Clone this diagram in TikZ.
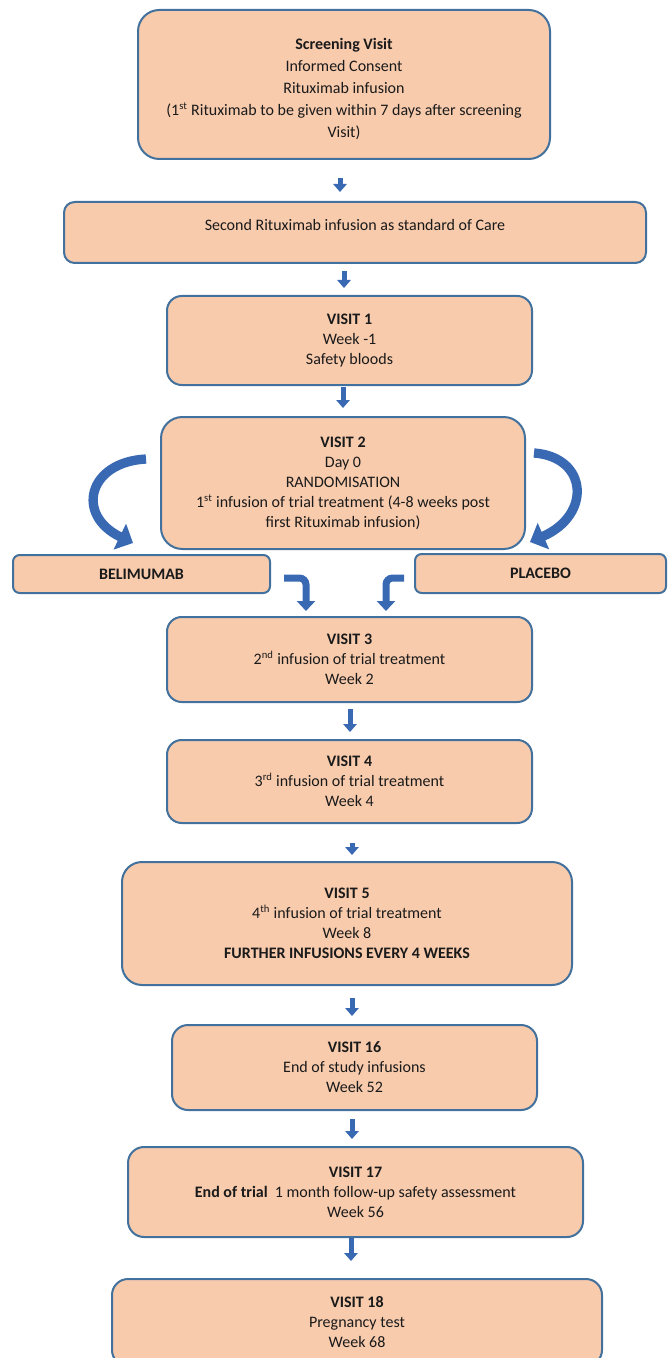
\documentclass[tikz,border=0pt]{standalone}
\usepackage{fontspec}
\setmainfont{Carlito}
\usetikzlibrary{arrows.meta}
\definecolor{peach}{HTML}{F8CBAD}
\definecolor{bordr}{HTML}{41719C}
\definecolor{arrblue}{HTML}{3A69B3}
\definecolor{txt}{HTML}{1A1A1A}
\begin{document}
\begin{tikzpicture}[x=0.75pt,y=-0.75pt,
  box/.style={draw=bordr, line width=1.5pt, fill=peach, text=txt, align=center,
    inner sep=0pt, font=\fontsize{12}{15}\selectfont, rounded corners=#1},
  box/.default=12pt,
  dnarrow/.style={draw=arrblue, line width=3.75pt, -{Triangle[length=6pt,width=10pt]}},
  curvearrow/.style={draw=arrblue, line width=7pt, -{Triangle[length=11pt,width=21pt]}},
  bentarrow/.style={draw=arrblue, line width=5.25pt, rounded corners=5pt, -{Triangle[length=7.5pt,width=13.5pt]}}
]
\useasboundingbox (0,0) rectangle (669,1358);
\fill[white] (0,0) rectangle (669,1358);
\clip (0,0) rectangle (669,1358);

% boxes
\node[box=16pt, minimum width=309pt, minimum height=111.75pt, font=\fontsize{12}{16.5}\selectfont] (scr) at (344,84.5)
  {\rule{0pt}{15pt}\textbf{Screening Visit}\\Informed Consent\\Rituximab infusion\\(1\textsuperscript{st} Rituximab to be given within 7 days after screening\\Visit)};
\node[box=8pt, minimum width=436.5pt, minimum height=45.75pt, text depth=11.5pt] (sec) at (355,232.5)
  {Second Rituximab infusion as standard of Care};
\node[box=11pt, minimum width=273.75pt, minimum height=66.75pt] (v1) at (349.5,340.5)
  {\textbf{VISIT 1}\\Week -1\\Safety bloods};
\node[box=16pt, minimum width=273pt, minimum height=99pt] (v2) at (343,483)
  {\textbf{VISIT 2}\\Day 0\\RANDOMISATION\\1\textsuperscript{st} infusion of trial treatment (4-8 weeks post\\first Rituximab infusion)};
\node[box=5pt, minimum width=192.75pt, minimum height=28.5pt] (bel) at (141.5,574) {\textbf{BELIMUMAB}};
\node[box=5pt, minimum width=188.25pt, minimum height=29.25pt] (pla) at (540.5,573.5) {\textbf{PLACEBO}};
\node[box=11pt, minimum width=273.75pt, minimum height=63.75pt] (v3) at (349.5,659.5)
  {\textbf{VISIT 3}\\2\textsuperscript{nd} infusion of trial treatment\\Week 2};
\node[box=11pt, minimum width=273.75pt, minimum height=62.25pt] (v4) at (349.5,781.5)
  {\textbf{VISIT 4}\\3\textsuperscript{rd} infusion of trial treatment\\Week 4};
\node[box=15pt, minimum width=337.5pt, minimum height=92.25pt] (v5) at (347,923.5)
  {\textbf{VISIT 5}\\4\textsuperscript{th} infusion of trial treatment\\Week 8\\\textbf{FURTHER INFUSIONS EVERY 4 WEEKS}};
\node[box=12pt, minimum width=273.75pt, minimum height=63.75pt] (v16) at (354.5,1067.5)
  {\textbf{VISIT 16}\\End of study infusions\\Week 52};
\node[box=12pt, minimum width=341.25pt, minimum height=67.5pt] (v17) at (355.5,1192)
  {\textbf{VISIT 17}\\\textbf{End of trial}\ \ 1 month follow-up safety assessment\\Week 56};
\node[box=12pt, minimum width=367.5pt, minimum height=65.25pt] (v18) at (357,1322.5)
  {\textbf{VISIT 18}\\Pregnancy test\\Week 68};

% straight down arrows
\coordinate (xa1) at (340,0);
\coordinate (xa2) at (344,0);
\coordinate (xa3) at (343,0);
\coordinate (xa4) at (350,0);
\coordinate (xa5) at (352,0);
\coordinate (xa8) at (351,0);
\draw[dnarrow, shorten <=13.5pt, shorten >=6.75pt] (xa1 |- scr.south) -- (xa1 |- sec.north);
\draw[dnarrow, shorten <=5.25pt, shorten >=5.25pt] (xa2 |- sec.south) -- (xa2 |- v1.north);
\draw[dnarrow, shorten <=0.75pt, shorten >=6pt] (xa3 |- v1.south) -- (xa3 |- v2.north);
\draw[dnarrow, shorten <=4.5pt, shorten >=5.25pt] (xa4 |- v3.south) -- (xa4 |- v4.north);
\draw[dnarrow, shorten <=14.25pt, shorten >=4.5pt] (xa5 |- v4.south) -- (xa5 |- v5.north);
\draw[dnarrow, shorten <=9pt, shorten >=6pt] (xa5 |- v5.south) -- (xa5 |- v16.north);
\draw[dnarrow, shorten <=6pt, shorten >=5.25pt] (xa5 |- v16.south) -- (xa5 |- v17.north);
\draw[dnarrow, shorten <=0pt, shorten >=12.75pt] (xa8 |- v17.south) -- (xa8 |- v18.north);

% curved arrows from Visit 2
\coordinate (cls) at (146,459);
\coordinate (cle) at (133,543);
\coordinate (crs) at (534,453);
\coordinate (cre) at (530,542);
\draw[curvearrow] (cls) .. controls (88,462) and (75,515) .. (cle);
\draw[curvearrow] (crs) .. controls (588,457) and (592,515) .. (cre);

% bent arrows to Visit 3
\coordinate (bls) at (284,578);
\coordinate (ble) at (306,611);
\coordinate (brs) at (404,578);
\coordinate (bre) at (386,611);
\draw[bentarrow] (bls) -- (bls -| ble) -- (ble);
\draw[bentarrow] (brs) -- (brs -| bre) -- (bre);
\end{tikzpicture}
\end{document}
